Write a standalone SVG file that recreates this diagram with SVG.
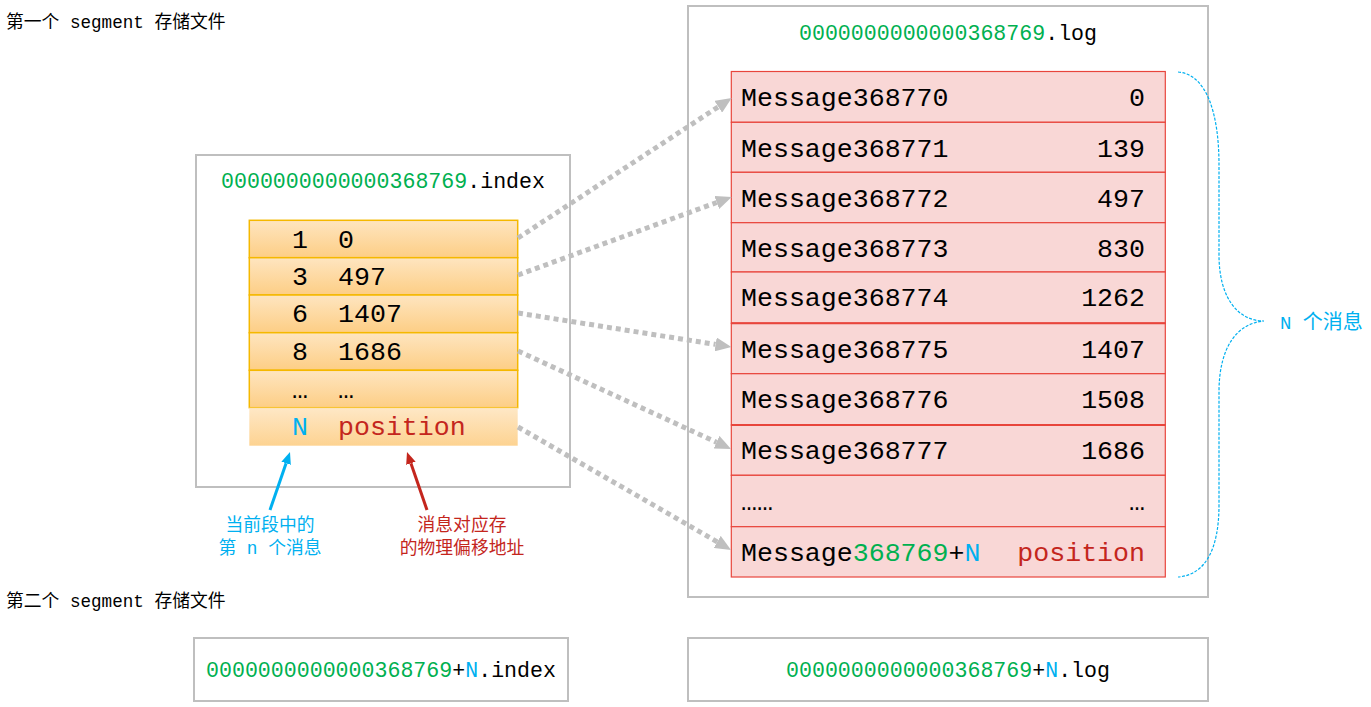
<svg xmlns="http://www.w3.org/2000/svg" width="1371" height="707" viewBox="0 0 1371 707">
<defs>
<style>
.box{fill:#fff;stroke:#bfbfbf;stroke-width:2}
.mono{font-family:"Liberation Mono","DejaVu Sans Mono",monospace}
.cjk{font-family:"Noto Sans CJK SC","Noto Sans",sans-serif}
.title{font-size:21.6px;fill:#000}
.cell{font-size:26.6px;fill:#000}
.g{fill:#00b050}
.b{fill:#00b0f0}
.r{fill:#c4261d}
.irow{fill:url(#og);stroke:#f5b800;stroke-width:1.5}
.lrow{fill:#f9d7d6;stroke:#e8453c;stroke-width:1.2}
.conn{fill:none;stroke:#bfbfbf;stroke-width:5;stroke-dasharray:5 4;marker-end:url(#ah)}
.lbl{font-size:17.8px}
</style>
<linearGradient id="og" x1="0" y1="0" x2="0" y2="1">
<stop offset="0" stop-color="#fee5c0"/>
<stop offset="1" stop-color="#fdce85"/>
</linearGradient>
<marker id="ah" viewBox="0 0 16 14" refX="0" refY="7" markerWidth="16" markerHeight="14" markerUnits="userSpaceOnUse" orient="auto">
<path d="M0,0 L16,7 L0,14 z" fill="#bfbfbf"/>
</marker>
<marker id="ahb" viewBox="0 0 12 10" refX="0" refY="5" markerWidth="12" markerHeight="10" markerUnits="userSpaceOnUse" orient="auto">
<path d="M0,0 L12,5 L0,10 z" fill="#00b0f0"/>
</marker>
<marker id="ahr" viewBox="0 0 12 10" refX="0" refY="5" markerWidth="12" markerHeight="10" markerUnits="userSpaceOnUse" orient="auto">
<path d="M0,0 L12,5 L0,10 z" fill="#c4261d"/>
</marker>
</defs>
<rect width="1371" height="707" fill="#fff"/>

<g id="label-seg1">
<text x="6" y="28" class="cjk" font-size="17.8" fill="#000">第一个<tspan class="mono" font-size="17.6"> segment </tspan>存储文件</text>
</g>
<g id="label-seg2">
<text x="6" y="607" class="cjk" font-size="17.8" fill="#000">第二个<tspan class="mono" font-size="17.6"> segment </tspan>存储文件</text>
</g>

<g id="index-file">
<rect class="box" x="196" y="155" width="374" height="332"/>
<text x="383" y="188" text-anchor="middle" class="mono title"><tspan class="g">0000000000000368769</tspan>.index</text>
<rect class="irow" x="249.3" y="220.3" width="268.4" height="37.4"/>
<rect class="irow" x="249.3" y="257.7" width="268.4" height="37.3"/>
<rect class="irow" x="249.3" y="295" width="268.4" height="37.7"/>
<rect class="irow" x="249.3" y="332.7" width="268.4" height="37.6"/>
<rect class="irow" x="249.3" y="370.3" width="268.4" height="37.4"/>
<rect x="249.3" y="407.7" width="268.4" height="38" fill="url(#og)" opacity="0.9"/>
<g class="mono cell">
<text x="300" y="247.7" text-anchor="middle">1</text><text x="338" y="247.7">0</text>
<text x="300" y="285" text-anchor="middle">3</text><text x="338" y="285">497</text>
<text x="300" y="322.3" text-anchor="middle">6</text><text x="338" y="322.3">1407</text>
<text x="300" y="360" text-anchor="middle">8</text><text x="338" y="360">1686</text>
<text x="300" y="397.6" text-anchor="middle">…</text><text x="338" y="397.6">…</text>
<text x="300" y="435.3" text-anchor="middle" class="b">N</text><text x="338" y="435.3" class="r">position</text>
</g>
</g>

<g id="log-file">
<rect class="box" x="688" y="6" width="520" height="591"/>
<text x="948" y="40" text-anchor="middle" class="mono title"><tspan class="g">0000000000000368769</tspan>.log</text>
<rect class="lrow" x="731.3" y="71.5" width="434" height="50.8"/>
<rect class="lrow" x="731.3" y="122.3" width="434" height="50"/>
<rect class="lrow" x="731.3" y="172.3" width="434" height="50.4"/>
<rect class="lrow" x="731.3" y="222.7" width="434" height="49.3"/>
<rect class="lrow" x="731.3" y="272" width="434" height="51.3"/>
<rect class="lrow" x="731.3" y="323.3" width="434" height="50.4"/>
<rect class="lrow" x="731.3" y="373.7" width="434" height="51.3"/>
<rect class="lrow" x="731.3" y="425" width="434" height="50.3"/>
<rect class="lrow" x="731.3" y="475.3" width="434" height="51.4"/>
<rect class="lrow" x="731.3" y="526.7" width="434" height="50.3"/>
<line x1="731.3" y1="323.3" x2="1165.3" y2="323.3" stroke="#e8453c" stroke-width="2"/>
<line x1="731.3" y1="425" x2="1165.3" y2="425" stroke="#e8453c" stroke-width="2"/>
<g class="mono cell">
<text x="741" y="105.7">Message368770</text><text x="1145" y="105.7" text-anchor="end">0</text>
<text x="741" y="156.5">Message368771</text><text x="1145" y="156.5" text-anchor="end">139</text>
<text x="741" y="206.5">Message368772</text><text x="1145" y="206.5" text-anchor="end">497</text>
<text x="741" y="256.9">Message368773</text><text x="1145" y="256.9" text-anchor="end">830</text>
<text x="741" y="306.2">Message368774</text><text x="1145" y="306.2" text-anchor="end">1262</text>
<text x="741" y="357.5">Message368775</text><text x="1145" y="357.5" text-anchor="end">1407</text>
<text x="741" y="407.9">Message368776</text><text x="1145" y="407.9" text-anchor="end">1508</text>
<text x="741" y="459.2">Message368777</text><text x="1145" y="459.2" text-anchor="end">1686</text>
<text x="741" y="509.5">……</text><text x="1145" y="509.5" text-anchor="end">…</text>
<text x="741" y="560.9">Message<tspan class="g">368769</tspan>+<tspan class="b">N</tspan></text><text x="1145" y="560.9" text-anchor="end" class="r">position</text>
</g>
</g>

<g id="brace">
<path d="M1178,72 C1206,74 1219,112 1219,165 L1219,255 C1219,298 1238,321 1264,321 C1238,323 1219,346 1219,392 L1219,505 C1219,548 1206,575 1178,577" fill="none" stroke="#00b0f0" stroke-width="1.2" stroke-dasharray="3 1.5"/>
<text x="1280" y="329" class="cjk b" font-size="20"><tspan class="mono" font-size="19">N </tspan>个消息</text>
</g>

<g id="label-n">
<text x="270" y="531" text-anchor="middle" class="cjk lbl b">当前段中的</text>
<text x="270" y="554" text-anchor="middle" class="cjk lbl b">第<tspan class="mono"> n </tspan>个消息</text>
</g>
<g id="label-position">
<text x="462" y="531" text-anchor="middle" class="cjk lbl r">消息对应存</text>
<text x="462" y="554" text-anchor="middle" class="cjk lbl r">的物理偏移地址</text>
</g>

<g id="seg2-index">
<rect class="box" x="194" y="638" width="374" height="63"/>
<text x="381" y="677" text-anchor="middle" class="mono title"><tspan class="g">0000000000000368769</tspan>+<tspan class="b">N</tspan>.index</text>
</g>
<g id="seg2-log">
<rect class="box" x="688" y="638" width="520" height="63"/>
<text x="948" y="677" text-anchor="middle" class="mono title"><tspan class="g">0000000000000368769</tspan>+<tspan class="b">N</tspan>.log</text>
</g>

<g id="connectors">
<line class="conn" x1="518" y1="238" x2="718.3" y2="106.8"/>
<line class="conn" x1="518" y1="275" x2="716.7" y2="202.5"/>
<line class="conn" x1="518" y1="313" x2="715.6" y2="344.4"/>
<line class="conn" x1="518" y1="351" x2="716.5" y2="442.2"/>
<line class="conn" x1="518" y1="427" x2="717.2" y2="541.9"/>
<line x1="270" y1="510" x2="286.1" y2="463.3" stroke="#00b0f0" stroke-width="3" marker-end="url(#ahb)"/>
<line x1="427" y1="510" x2="410.9" y2="463.3" stroke="#c4261d" stroke-width="3" marker-end="url(#ahr)"/>
</g>
</svg>
